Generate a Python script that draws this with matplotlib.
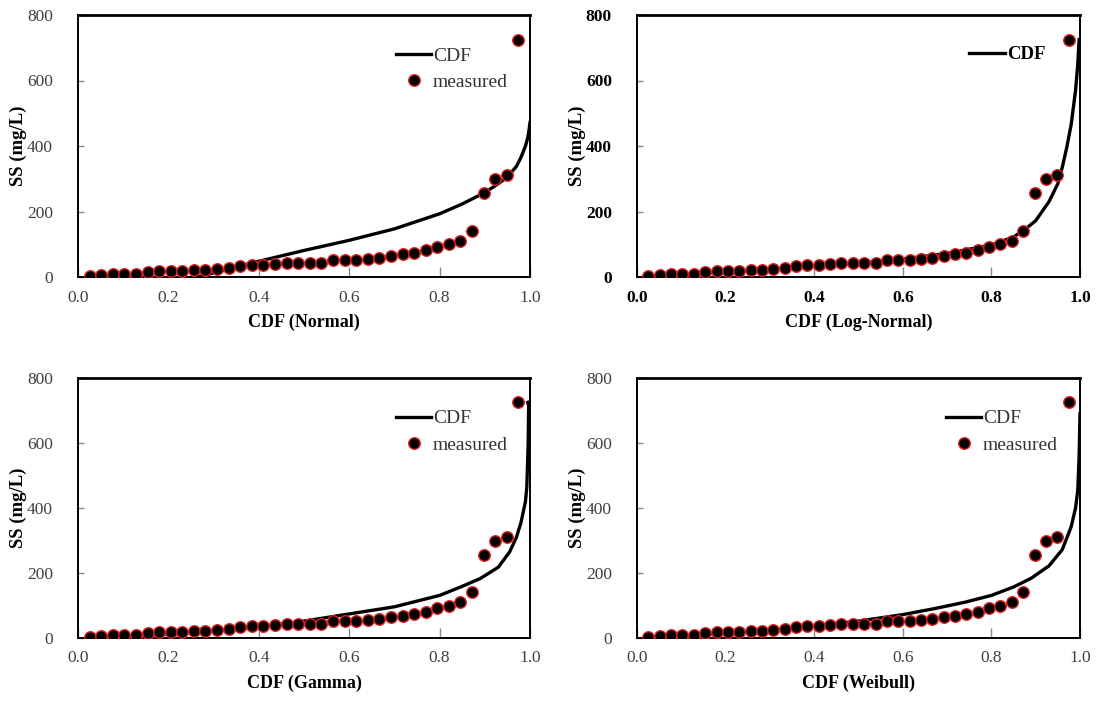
import matplotlib
matplotlib.use("Agg")
import matplotlib.pyplot as plt
import numpy as np

plt.rcParams['font.family'] = ['Liberation Serif', 'DejaVu Serif']

# measured SS, plotted at i/(n+1)
n_meas = 38
meas_x = np.arange(1, n_meas + 1) / (n_meas + 1)
meas_ss = [2, 6, 10, 10, 10, 14, 18, 18, 18, 21, 21, 25, 28, 33, 36, 36, 40, 43, 43,
           43, 43, 52, 52, 52, 56, 59, 64, 69, 74, 81, 92, 100, 110, 141, 255, 299,
           311, 725]

# fitted CDF curves
normal_x = [0.265, 0.3, 0.35, 0.4, 0.5, 0.6, 0.7, 0.8, 0.85, 0.9, 0.93, 0.95,
            0.97, 0.98, 0.99, 0.995, 0.998, 1.0]
normal_y = [0, 12, 30, 48, 81, 112, 147, 193, 223, 258, 285, 305,
            338, 365, 400, 425, 450, 472]

lognorm_x = [0.02, 0.05, 0.1, 0.2, 0.3, 0.4, 0.5, 0.6, 0.7, 0.8, 0.85, 0.88,
             0.9, 0.93, 0.95, 0.96, 0.97, 0.98, 0.99, 0.995, 0.998]
lognorm_y = [3, 5, 8, 15, 23, 32, 42, 55, 72, 98, 122, 150,
             172, 230, 285, 335, 395, 465, 570, 650, 725]

gamma_x = [0.02, 0.05, 0.1, 0.2, 0.3, 0.4, 0.5, 0.6, 0.7, 0.8, 0.85, 0.89,
           0.93, 0.955, 0.97, 0.98, 0.99, 0.993, 0.996, 0.997, 0.995]
gamma_y = [0, 2, 5, 12, 21, 33, 52, 74, 96, 131, 159, 183,
           218, 265, 310, 355, 420, 466, 600, 715, 725]

weibull_x = [0.02, 0.05, 0.1, 0.2, 0.3, 0.4, 0.5, 0.6, 0.67, 0.74, 0.8, 0.85,
             0.89, 0.93, 0.96, 0.98, 0.99, 0.995, 0.998, 1.0]
weibull_y = [1, 3, 6, 14, 24, 36, 52, 72, 90, 110, 131, 157,
             184, 222, 272, 342, 400, 455, 560, 690]

panels = [
    ("CDF (Normal)", normal_x, normal_y),
    ("CDF (Log-Normal)", lognorm_x, lognorm_y),
    ("CDF (Gamma)", gamma_x, gamma_y),
    ("CDF (Weibull)", weibull_x, weibull_y),
]

W, H = 1103, 703
fig = plt.figure(figsize=(W / 100, H / 100), dpi=100)

# axes boxes in pixels: left, right, top, bottom
boxes = [
    (78, 530, 15, 277),
    (637, 1080, 15, 277),
    (78, 530, 378, 638),
    (637, 1080, 378, 638),
]

fs_tick = 12.5
fs_lab = 13
gray = '#404040'

for k, ((xlab, cx, cy), (l, r, t, b)) in enumerate(zip(panels, boxes)):
    ax = fig.add_axes([l / W, 1 - b / H, (r - l) / W, (b - t) / H])
    bold = (k == 1)  # the log-normal panel uses bold tick labels

    ln, = ax.plot(cx, cy, color='k', lw=2.4, zorder=2, label='CDF')
    pts, = ax.plot(meas_x, meas_ss, 'o', ms=8.3, mfc='k', mec='#e02020', mew=1.0,
                   zorder=3, label='measured')

    ax.set_xlim(0, 1.0)
    ax.set_ylim(0, 800)
    ax.set_xticks(np.arange(0, 1.01, 0.2))
    ax.set_yticks(np.arange(0, 801, 200))
    ax.set_xticklabels([f"{v:.1f}" for v in np.arange(0, 1.01, 0.2)])

    tcol = 'k' if bold else gray
    ax.tick_params(axis='x', direction='in', length=7, width=1, color='#888888',
                   labelsize=fs_tick, labelcolor=tcol, pad=9)
    ax.tick_params(axis='y', direction='in', length=4, width=1, color='#888888',
                   labelsize=fs_tick, labelcolor=tcol, pad=18)
    for lab in ax.get_xticklabels() + ax.get_yticklabels():
        lab.set_fontweight('bold' if bold else 'normal')

    for s in ax.spines.values():
        s.set_color('k')
        s.set_linewidth(1.4)
    ax.spines['top'].set_linewidth(2.0)

    ax.set_xlabel(xlab, fontsize=fs_lab, fontweight='bold', labelpad=6)
    ax.set_ylabel("SS (mg/L)", fontsize=13.5, fontweight='bold', labelpad=0)

    if bold:
        leg = ax.legend([ln], ['CDF'], loc='upper right', bbox_to_anchor=(0.96, 0.945),
                        frameon=False, handlelength=1.9, handletextpad=0.1,
                        prop={'weight': 'bold', 'size': 13.5})
    else:
        leg = ax.legend([ln, pts], ['CDF', 'measured'], loc='upper right',
                        bbox_to_anchor=(0.99, 0.945), frameon=False, fontsize=14,
                        handlelength=1.8, handletextpad=0.1, labelspacing=0.45,
                        markerfirst=True)
        for txt in leg.get_texts():
            txt.set_color('#333333')
    # keep "CDF" text left-aligned next to the line
    leg._legend_box.align = "left"

fig.savefig("out.png", dpi=100, facecolor='w')
